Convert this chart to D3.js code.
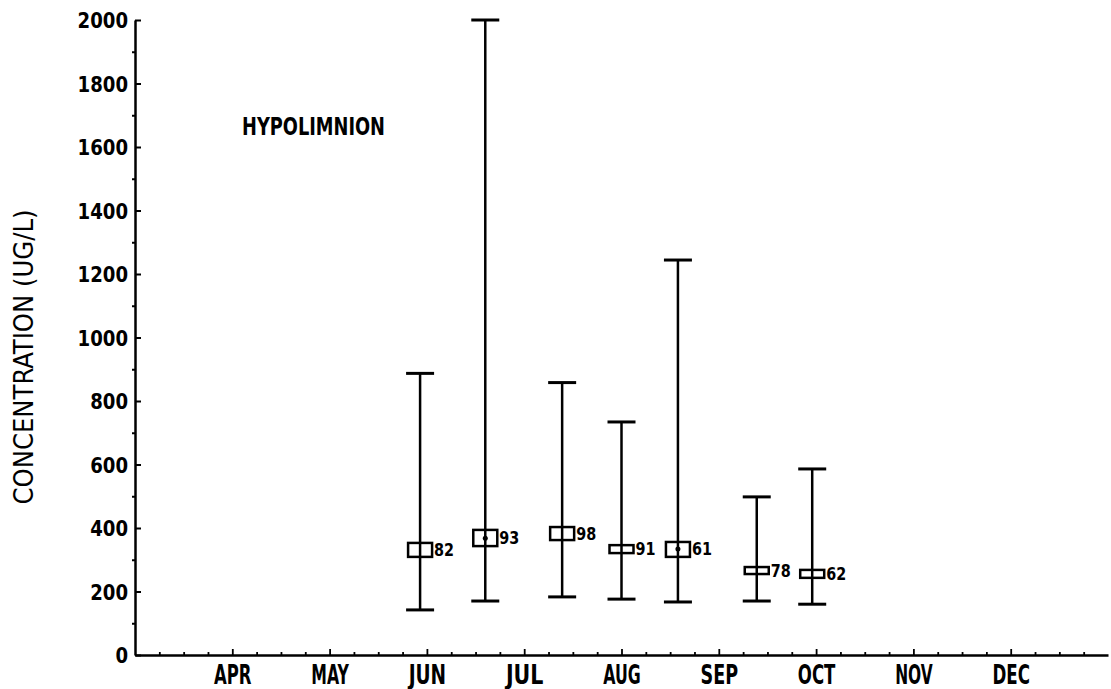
<!DOCTYPE html>
<html>
<head>
<meta charset="utf-8">
<script src="https://cdn.jsdelivr.net/npm/d3@7"></script>
<style>
  html, body { margin: 0; padding: 0; background: #fff; }
  svg { display: block; }
  text { font-family: "DejaVu Sans Condensed", "DejaVu Sans", sans-serif; font-weight: bold; fill: #000; }
</style>
</head>
<body>
<svg id="chart" width="1111" height="689"></svg>
<script>
// ---- data ----
const monthLabels = ["APR", "MAY", "JUN", "JUL", "AUG", "SEP", "OCT", "NOV", "DEC"];
const monthPositions = [1, 2, 3, 4, 5, 6, 7, 8, 9];        // months after MAR 1
const yTickValues = [0, 200, 400, 600, 800, 1000, 1200, 1400, 1600, 1800, 2000];
const sampleTimes = [2.93, 3.6, 4.39, 5.0, 5.58, 6.39, 6.96]; // month units
const maxValues  = [887, 2000, 858, 734, 1244, 498, 586];
const minValues  = [142, 170, 183, 176, 167, 170, 160];
const boxLow     = [309, 343, 362, 321, 309, 255, 243];
const boxHigh    = [353, 394, 403, 346, 356, 277, 268];
const dotValues  = [null, 368, null, null, 334, null, null];
const sampleCounts = ["82", "93", "98", "91", "61", "78", "62"];
const panelLabel = "HYPOLIMNION";
const yTitle = "CONCENTRATION (UG/L)";

// ---- layout ----
const svg = d3.select("#chart");
const x = d3.scaleLinear().domain([0, 10]).range([135, 1108]);
const y = d3.scaleLinear().domain([0, 2000]).range([655, 20]);

// y axis: major ticks
const yAxis = svg.append("g").attr("transform", `translate(${x(0)},0)`)
  .call(d3.axisLeft(y).tickValues(yTickValues).tickSizeInner(-6).tickSizeOuter(0).tickPadding(7).tickFormat(d3.format("d")));
yAxis.select(".domain").attr("stroke-width", 2.5);
yAxis.selectAll(".tick line").attr("stroke-width", 2);
yAxis.selectAll(".tick text")
  .style("font-size", "21px")
  .attr("textLength", d => String(d).length * 12.6)
  .attr("lengthAdjust", "spacingAndGlyphs")
  .attr("dy", "0.36em");

// y axis: minor ticks
const yMinor = d3.range(100, 2000, 200);
svg.append("g").attr("transform", `translate(${x(0)},0)`)
  .call(d3.axisLeft(y).tickValues(yMinor).tickSizeInner(3).tickSizeOuter(0).tickFormat(""))
  .call(g => g.select(".domain").remove())
  .selectAll(".tick line").attr("stroke-width", 2);

// x axis: quarter-month minor ticks
const xMinor = d3.range(0.25, 10, 0.25).filter(v => Math.abs(v - Math.round(v)) > 0.01 || monthPositions.indexOf(Math.round(v)) < 0);
const xAxisMinor = svg.append("g").attr("transform", `translate(0,${y(0)})`)
  .call(d3.axisBottom(x).tickValues(xMinor).tickSizeInner(-3).tickSizeOuter(0).tickFormat(""));
xAxisMinor.select(".domain").attr("stroke-width", 2.5);
xAxisMinor.selectAll(".tick line").attr("stroke-width", 1.8);

// x axis: month ticks and labels
const xAxis = svg.append("g").attr("transform", `translate(0,${y(0)})`)
  .call(d3.axisBottom(x).tickValues(monthPositions).tickSizeInner(-6).tickSizeOuter(0).tickPadding(10)
    .tickFormat((d, i) => monthLabels[i]));
xAxis.select(".domain").remove();
xAxis.selectAll(".tick line").attr("stroke-width", 1.8);
xAxis.selectAll(".tick text")
  .style("font-size", "27px")
  .attr("textLength", (d, i) => monthLabels[i].length * 12.5)
  .attr("lengthAdjust", "spacingAndGlyphs");

// y title
svg.append("text")
  .attr("transform", `translate(33,${357}) rotate(-90)`)
  .attr("text-anchor", "middle")
  .style("font-size", "27px")
  .style("font-weight", "normal")
  .attr("textLength", 295)
  .attr("lengthAdjust", "spacingAndGlyphs")
  .text(yTitle);

// panel label
svg.append("text")
  .attr("x", 242).attr("y", 135)
  .style("font-size", "24px")
  .attr("textLength", 143)
  .attr("lengthAdjust", "spacingAndGlyphs")
  .text(panelLabel);

// ---- error bars ----
const capW = 28, boxW = 24;
const data = sampleTimes.map((t, i) => ({
  t, max: maxValues[i], min: minValues[i], lo: boxLow[i], hi: boxHigh[i], dot: dotValues[i], n: sampleCounts[i]
}));
const g = svg.append("g");
const bars = g.selectAll("g.bar").data(data).join("g").attr("class", "bar");

bars.append("rect")
  .attr("x", d => x(d.t) - boxW / 2)
  .attr("y", d => y(d.hi))
  .attr("width", boxW)
  .attr("height", d => y(d.lo) - y(d.hi))
  .attr("fill", "#fff").attr("stroke", "#000").attr("stroke-width", 2.5);

bars.append("line")
  .attr("x1", d => x(d.t)).attr("x2", d => x(d.t))
  .attr("y1", d => y(d.max)).attr("y2", d => y(d.min))
  .attr("stroke", "#000").attr("stroke-width", 2.5);

bars.append("line")
  .attr("x1", d => x(d.t) - capW / 2).attr("x2", d => x(d.t) + capW / 2)
  .attr("y1", d => y(d.max)).attr("y2", d => y(d.max))
  .attr("stroke", "#000").attr("stroke-width", 3);

bars.append("line")
  .attr("x1", d => x(d.t) - capW / 2).attr("x2", d => x(d.t) + capW / 2)
  .attr("y1", d => y(d.min)).attr("y2", d => y(d.min))
  .attr("stroke", "#000").attr("stroke-width", 3);

bars.filter(d => d.dot !== null).append("circle")
  .attr("cx", d => x(d.t)).attr("cy", d => y(d.dot)).attr("r", 2.5).attr("fill", "#000");

bars.append("text")
  .attr("x", d => x(d.t) + boxW / 2 + 2)
  .attr("y", d => (y(d.lo) + y(d.hi)) / 2 + 6)
  .style("font-size", "17px")
  .attr("textLength", d => d.n.length * 10)
  .attr("lengthAdjust", "spacingAndGlyphs")
  .text(d => d.n);
</script>
</body>
</html>
